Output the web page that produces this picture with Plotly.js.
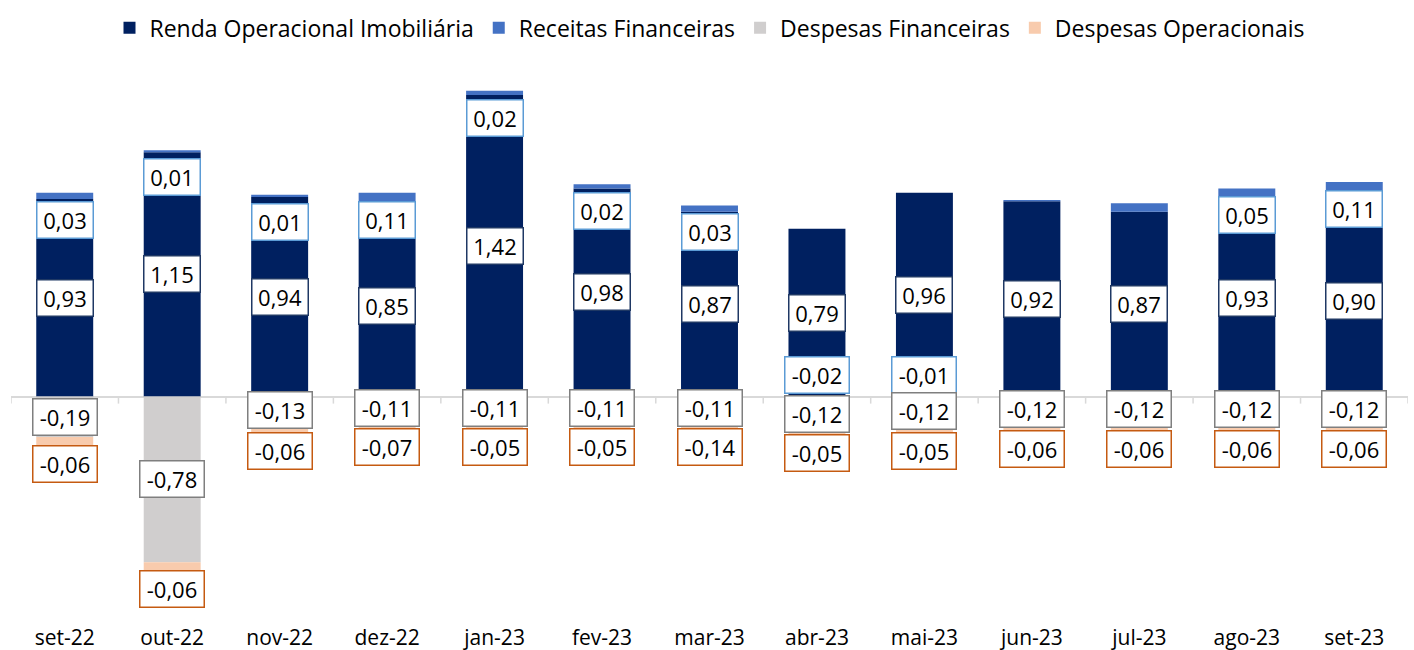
<!DOCTYPE html>
<html>
<head>
<meta charset="utf-8">
<script src="https://cdn.plot.ly/plotly-3.0.1.min.js"></script>
<style>html,body{margin:0;padding:0;background:#fff;}#chart{width:1414px;height:650px;}</style>
</head>
<body>
<div id="chart"></div>
<script>
const categories = ['set-22','out-22','nov-22','dez-22','jan-23','fev-23','mar-23','abr-23','mai-23','jun-23','jul-23','ago-23','set-23'];
const renda      = [0.93, 1.15, 0.94, 0.85, 1.42, 0.98, 0.87, 0.79, 0.96, 0.92, 0.87, 0.93, 0.90];
const receitas   = [0.03, 0.01, 0.01, 0.11, 0.02, 0.02, 0.03, -0.02, -0.01, 0.005, 0.04, 0.05, 0.11];
const showReceitasLabel = [true,true,true,true,true,true,true,true,true,false,false,true,true];
const despFin    = [-0.19, -0.78, -0.13, -0.11, -0.11, -0.11, -0.11, -0.12, -0.12, -0.12, -0.12, -0.12, -0.12];
const despOper   = [-0.06, -0.06, -0.06, -0.07, -0.05, -0.05, -0.14, -0.05, -0.05, -0.06, -0.06, -0.06, -0.06];

const seriesNames = ['Renda Operacional Imobiliária','Receitas Financeiras','Despesas Financeiras','Despesas Operacionais'];
const colors = ['#002060','#4472C4','#D0CECE','#F8CBAD'];
const labelBorders = ['#1F3864','#5B9BD5','#7F7F7F','#C55A11'];

const FONT = 'Open Sans, Noto Sans, sans-serif';
const fmt = v => v.toFixed(2).replace('.', ',');

const idx = categories.map((_, i) => i);
const traces = [renda, receitas, despFin, despOper].map((vals, k) => ({
  type: 'bar',
  name: seriesNames[k],
  x: idx,
  y: vals,
  marker: {color: colors[k], line: {width: 0}},
  hoverinfo: 'skip'
}));

const YMIN = -1.0514, YMAX = 1.5654;

function box(x, y, v, k, yanchor, yshift) {
  const t = fmt(v);
  return {
    x: x, y: y, xref: 'x', yref: 'y', text: t, showarrow: false,
    yanchor: yanchor, yshift: yshift || 0,
    bgcolor: '#ffffff', bordercolor: labelBorders[k], borderwidth: 1.5, borderpad: 3,
    width: t.length <= 4 ? 49 : 57, height: 29,
    font: {family: FONT, size: 22, color: '#000000'}
  };
}

const annotations = [];
idx.forEach(i => {
  annotations.push(box(i, renda[i] / 2, renda[i], 0, 'middle'));
  if (showReceitasLabel[i]) {
    if (receitas[i] >= 0) annotations.push(box(i, renda[i] + receitas[i], receitas[i], 1, 'top', -8));
    else annotations.push(box(i, 0, receitas[i], 1, 'bottom', 3));
  }
  const negRec = receitas[i] < 0 ? receitas[i] : 0;
  annotations.push(box(i, negRec + despFin[i] / 2, despFin[i], 2, 'middle'));
  annotations.push(box(i, negRec + despFin[i], despOper[i], 3, 'top', -8));
});

const shapes = [];
for (let b = 0; b <= categories.length; b++) {
  shapes.push({
    type: 'line', xref: 'x', yref: 'y', ysizemode: 'pixel', yanchor: 0,
    x0: b - 0.5, x1: b - 0.5, y0: 0, y1: -7,
    line: {color: '#D9D9D9', width: 1.5}
  });
}

const layout = {
  width: 1414, height: 650,
  margin: {l: 11, r: 6, t: 60, b: 30},
  paper_bgcolor: '#ffffff', plot_bgcolor: '#ffffff',
  barmode: 'relative',
  bargap: 0.47,
  font: {family: FONT, size: 20, color: '#000000'},
  showlegend: true,
  legend: {
    orientation: 'h', x: 0.5, xanchor: 'center', y: 1.1036, yanchor: 'top',
    font: {family: FONT, size: 23, color: '#000000'},
    traceorder: 'normal', itemclick: false, itemdoubleclick: false
  },
  xaxis: {
    type: 'linear', range: [-0.5, categories.length - 0.5],
    tickvals: idx, ticktext: categories,
    showgrid: false, zeroline: false, showline: false, ticks: '',
    ticklabelstandoff: 3,
    tickfont: {family: FONT, size: 21, color: '#000000'},
    fixedrange: true
  },
  yaxis: {
    range: [YMIN, YMAX], showgrid: false, showticklabels: false, ticks: '',
    zeroline: true, zerolinecolor: '#D9D9D9', zerolinewidth: 2,
    showline: false, fixedrange: true
  },
  annotations: annotations,
  shapes: shapes
};

Plotly.newPlot('chart', traces, layout, {displayModeBar: false, staticPlot: true});
</script>
</body>
</html>
